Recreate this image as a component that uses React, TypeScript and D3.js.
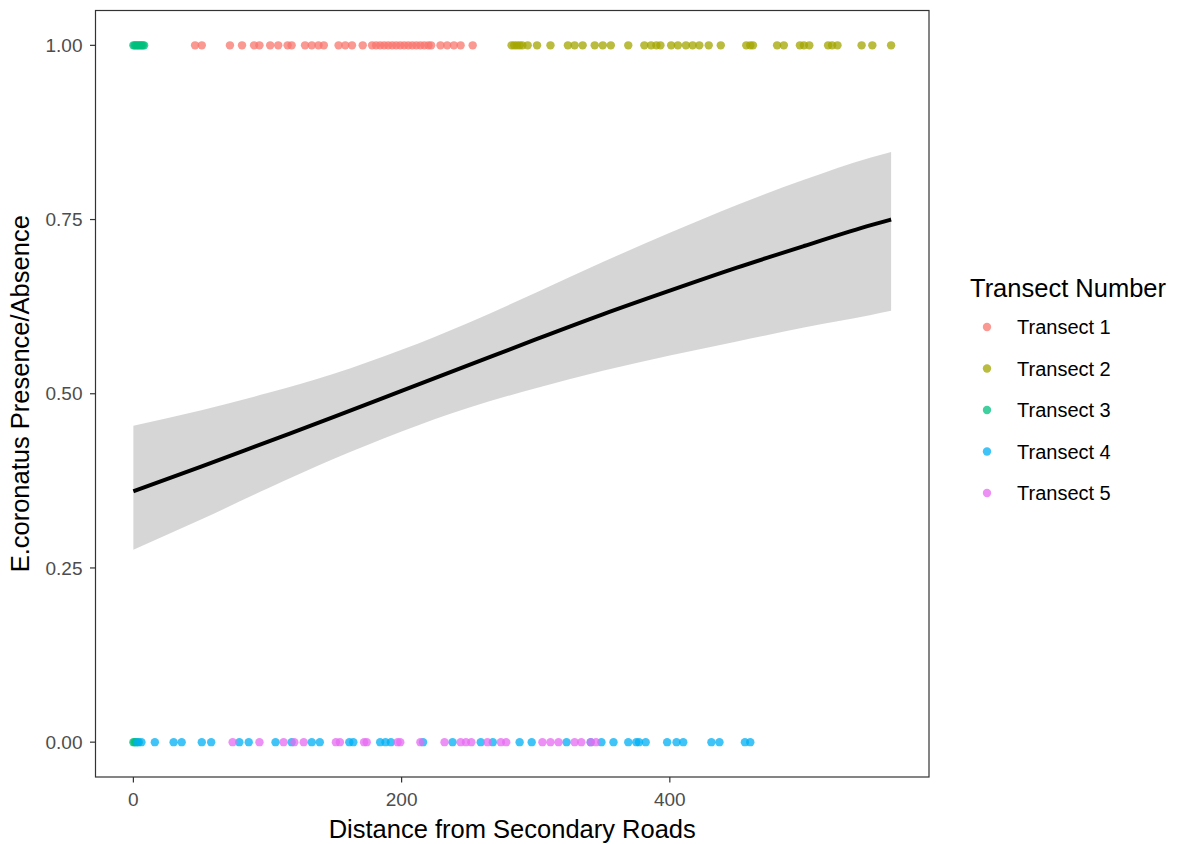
import React from "react";
import * as d3 from "d3";

const transects = ["Transect 1", "Transect 2", "Transect 3", "Transect 4", "Transect 5"];
const colors = ["#F8766D", "#A3A500", "#00BF7D", "#00B0F6", "#E76BF3"];

// Distances (presence = 1)
const t1Present = [46, 51, 72, 81, 90, 94, 102, 108, 115, 118, 128, 133, 138, 142, 153, 158, 163, 171, 178, 181, 184, 187, 190, 193, 196, 199, 202, 205, 208, 211, 214, 217, 220, 222, 229, 234, 239, 244, 253];
const t2Present = [282, 284, 286, 288, 290, 294, 301, 311, 324, 329, 335, 344, 350, 356, 369, 381, 386, 390, 393, 401, 406, 412, 417, 422, 429, 438, 457, 460, 462, 480, 485, 497, 500, 504, 518, 521, 525, 543, 551, 565];
const t3Present = [0, 1, 2, 3, 4, 5, 6, 7, 8];
// Distances (absence = 0)
const t3Absent = [0, 1, 2, 4];
const t4Absent = [3, 6, 16, 30, 36, 51, 58, 79, 86, 106, 118, 133, 139, 161, 164, 184, 188, 192, 216, 238, 259, 268, 288, 297, 323, 341, 349, 358, 369, 375, 377, 382, 398, 405, 410, 431, 437, 456, 460];
const t5Absent = [74, 94, 112, 120, 127, 151, 154, 172, 174, 197, 199, 214, 232, 244, 248, 252, 264, 274, 278, 305, 311, 317, 329, 334, 341, 345];

// Fitted logistic curve and confidence band
const fitX = [0, 50, 100, 150, 200, 250, 300, 350, 400, 450, 500, 550, 565];
const fitY = [0.360, 0.395, 0.431, 0.467, 0.504, 0.541, 0.578, 0.614, 0.648, 0.681, 0.712, 0.742, 0.750];
const fitLow = [0.276, 0.319, 0.364, 0.407, 0.446, 0.480, 0.508, 0.533, 0.555, 0.575, 0.595, 0.613, 0.619];
const fitHigh = [0.454, 0.476, 0.501, 0.529, 0.563, 0.602, 0.645, 0.689, 0.731, 0.771, 0.807, 0.839, 0.847];

const xTicks = [0, 200, 400];
const yTicks = [0, 0.25, 0.5, 0.75, 1];

const W = 1184, H = 844;
const panel = { left: 95.5, right: 929, top: 10.5, bottom: 777 };
const FONT = "'Liberation Sans', Arial, Helvetica, sans-serif";

export default function App() {
  const x = d3.scaleLinear().domain([-28.25, 593.25]).range([panel.left, panel.right]);
  const y = d3.scaleLinear().domain([-0.05, 1.05]).range([panel.bottom, panel.top]);

  const points: { d: number; v: number; g: number }[] = [];
  t1Present.forEach((d) => points.push({ d, v: 1, g: 0 }));
  t2Present.forEach((d) => points.push({ d, v: 1, g: 1 }));
  t3Present.forEach((d) => points.push({ d, v: 1, g: 2 }));
  t3Absent.forEach((d) => points.push({ d, v: 0, g: 2 }));
  t4Absent.forEach((d) => points.push({ d, v: 0, g: 3 }));
  t5Absent.forEach((d) => points.push({ d, v: 0, g: 4 }));

  const fit = fitX.map((d, i) => ({ d, p: fitY[i], lo: fitLow[i], hi: fitHigh[i] }));
  const area = d3
    .area<{ d: number; p: number; lo: number; hi: number }>()
    .x((r) => x(r.d))
    .y0((r) => y(r.lo))
    .y1((r) => y(r.hi))
    .curve(d3.curveMonotoneX);
  const line = d3
    .line<{ d: number; p: number; lo: number; hi: number }>()
    .x((r) => x(r.d))
    .y((r) => y(r.p))
    .curve(d3.curveMonotoneX);

  const fmt = d3.format(".2f");
  const cx = (panel.left + panel.right) / 2;
  const cy = (panel.top + panel.bottom) / 2;

  return (
    <svg width={W} height={H} style={{ position: "absolute", left: 0, top: 0, background: "#fff" }} fontFamily={FONT}>
      <rect x={0} y={0} width={W} height={H} fill="#fff" />
      {/* points */}
      <g>
        {points.map((p, i) => (
          <circle key={i} cx={x(p.d)} cy={y(p.v)} r={4.2} fill={colors[p.g]} fillOpacity={0.75} />
        ))}
      </g>
      {/* band and fit */}
      <path d={area(fit) || ""} fill="#999999" fillOpacity={0.4} />
      <path d={line(fit) || ""} fill="none" stroke="#000" strokeWidth={4} />
      {/* panel border */}
      <rect
        x={panel.left}
        y={panel.top}
        width={panel.right - panel.left}
        height={panel.bottom - panel.top}
        fill="none"
        stroke="#333333"
        strokeWidth={1.2}
      />
      {/* y axis */}
      <g>
        {yTicks.map((t) => (
          <g key={t}>
            <line x1={panel.left - 5.5} x2={panel.left} y1={y(t)} y2={y(t)} stroke="#333333" strokeWidth={1.2} />
            <text x={panel.left - 13} y={y(t)} dy="0.35em" textAnchor="end" fontSize={19} fill="#4D4D4D">
              {fmt(t)}
            </text>
          </g>
        ))}
      </g>
      {/* x axis */}
      <g>
        {xTicks.map((t) => (
          <g key={t}>
            <line x1={x(t)} x2={x(t)} y1={panel.bottom} y2={panel.bottom + 5.5} stroke="#333333" strokeWidth={1.2} />
            <text x={x(t)} y={806} textAnchor="middle" fontSize={19} fill="#4D4D4D">
              {t}
            </text>
          </g>
        ))}
      </g>
      {/* axis titles */}
      <text x={cx} y={838} textAnchor="middle" fontSize={25.5} fill="#000">
        Distance from Secondary Roads
      </text>
      <text transform={`translate(29, ${cy}) rotate(-90)`} textAnchor="middle" fontSize={25.5} fill="#000">
        E.coronatus Presence/Absence
      </text>
      {/* legend */}
      <g>
        <text x={970} y={297} fontSize={25.5} fill="#000">
          Transect Number
        </text>
        {transects.map((name, i) => {
          const ly = 327 + i * 41.5;
          return (
            <g key={name}>
              <circle cx={987} cy={ly} r={4.2} fill={colors[i]} fillOpacity={0.75} />
              <text x={1017} y={ly} dy="0.36em" fontSize={20} fill="#000">
                {name}
              </text>
            </g>
          );
        })}
      </g>
    </svg>
  );
}
